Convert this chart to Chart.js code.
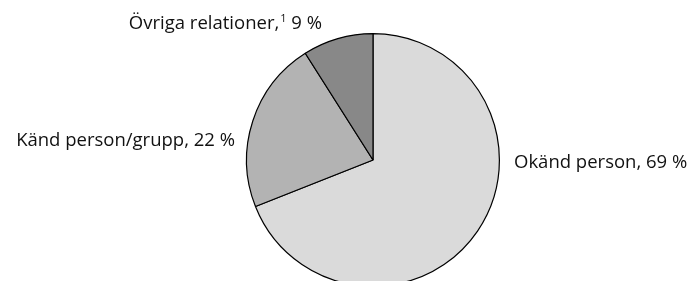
<!DOCTYPE html>
<html>
<head>
<meta charset="utf-8">
<script src="https://cdn.jsdelivr.net/npm/chart.js@4"></script>
<style>
  html, body { margin: 0; padding: 0; background: #fff; overflow: hidden; }
  #wrap { position: relative; width: 691px; height: 300px; }
</style>
</head>
<body>
<div id="wrap"><canvas id="chart"></canvas></div>
<script>
// kategorier och andelar (%)
const categories = ['Okänd person', 'Känd person/grupp', 'Övriga relationer,']
const shares = [69, 22, 9]
const footnotes = ['', '', '1']
const sliceColors = ['#dadada', '#b3b3b3', '#888888']

const FONT = '"Open Sans", "DejaVu Sans", sans-serif'
const SIZE = 18.5

// etiketternas placering relativt pajens mitt
const labelPlacement = [
  { dx: 141, dy: 3, align: 'left' },
  { dx: -138, dy: -19, align: 'right' },
  { dx: -51, dy: -136, align: 'right' }
]

const pieLabels = {
  id: 'pieLabels',
  afterDraw(chart) {
    const ctx = chart.ctx
    const arc = chart.getDatasetMeta(0).data[0]
    const cx = arc.x, cy = arc.y
    ctx.save()
    ctx.fillStyle = '#111111'
    ctx.textBaseline = 'middle'
    categories.forEach((name, i) => {
      const p = labelPlacement[i]
      const main = name + (footnotes[i] ? '' : ',')
      const tail = ' ' + shares[i] + ' %'
      ctx.font = SIZE + 'px ' + FONT
      const wMain = ctx.measureText(main).width
      const wTail = ctx.measureText(tail).width
      ctx.font = '11px ' + FONT
      const wSup = footnotes[i] ? ctx.measureText(footnotes[i]).width + 1 : 0
      const total = wMain + wSup + wTail
      let x = cx + p.dx
      if (p.align === 'right') x -= total
      const y = cy + p.dy
      ctx.textAlign = 'left'
      ctx.font = SIZE + 'px ' + FONT
      ctx.fillText(main, x, y)
      if (footnotes[i]) {
        ctx.font = '11px ' + FONT
        ctx.fillText(footnotes[i], x + wMain + 1, y - 5)
      }
      ctx.font = SIZE + 'px ' + FONT
      ctx.fillText(tail, x + wMain + wSup, y)
    })
    ctx.restore()
  }
}

new Chart(document.getElementById('chart'), {
  type: 'pie',
  data: {
    labels: categories,
    datasets: [{
      data: shares,
      backgroundColor: sliceColors,
      borderColor: '#000000',
      borderWidth: 1.2
    }]
  },
  options: {
    responsive: true,
    maintainAspectRatio: false,
    animation: false,
    layout: { padding: { top: 33, bottom: 13, left: 246, right: 191 } },
    plugins: {
      legend: { display: false },
      tooltip: { enabled: false }
    }
  },
  plugins: [pieLabels]
})
</script>
</body>
</html>
